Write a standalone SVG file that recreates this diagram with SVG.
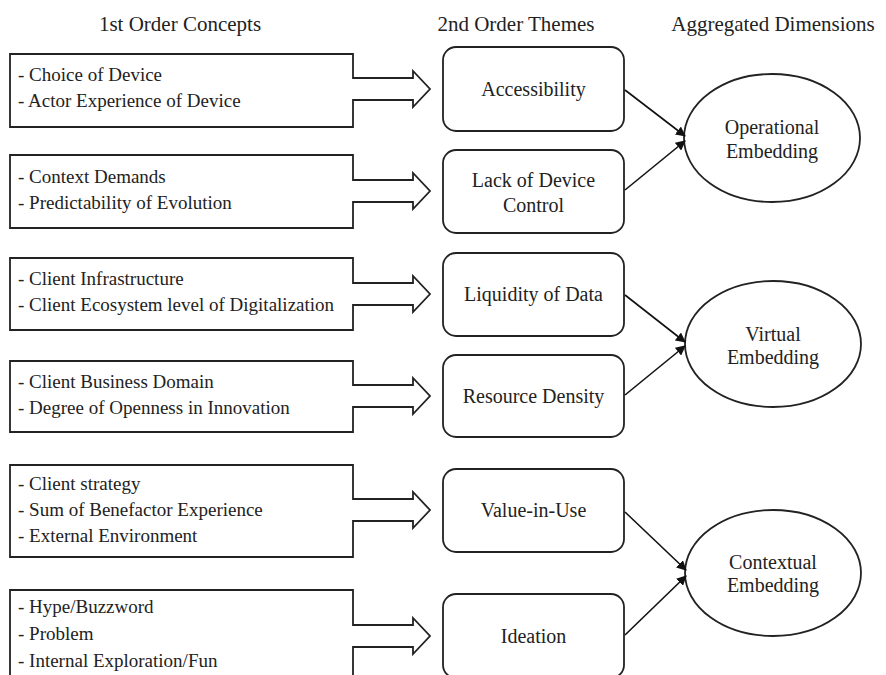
<svg xmlns="http://www.w3.org/2000/svg" width="886" height="675" viewBox="0 0 886 675">
<defs>
<style>
text{font-family:"Liberation Serif","Times New Roman",serif;fill:#222}
.hdr{font-size:21px;text-anchor:middle}
.lt{font-size:19px}
.mt{font-size:20px;text-anchor:middle}
.blk{fill:#fff;stroke:#222;stroke-width:1.8;stroke-linejoin:miter}
.rb{fill:#fff;stroke:#222;stroke-width:1.8}
.el{fill:#fff;stroke:#222;stroke-width:1.8}
.con{fill:none;stroke:#111;stroke-width:1.6;marker-end:url(#ah)}
</style>
<marker id="ah" viewBox="0 0 10 10" refX="9" refY="5" markerWidth="10" markerHeight="10" markerUnits="userSpaceOnUse" orient="auto">
<path d="M0,0 L10,5 L0,10 Z" fill="#111"/>
</marker>
</defs>
<rect width="886" height="675" fill="#fff"/>

<g id="headers">
<text class="hdr" x="180" y="31">1st Order Concepts</text>
<text class="hdr" x="516" y="31">2nd Order Themes</text>
<text class="hdr" x="773" y="31">Aggregated Dimensions</text>
</g>

<g id="c1">
<path class="blk" d="M10,54 H353 V78 H413 V71 L430,89 L413,107 V100 H353 V127 H10 Z"/>
<text class="lt" x="18" y="81">- Choice of Device</text>
<text class="lt" x="18" y="107">- Actor Experience of Device</text>
</g>
<g id="c2">
<path class="blk" d="M10,155 H353 V180 H413 V173 L430,191 L413,209 V202 H353 V228 H10 Z"/>
<text class="lt" x="18" y="183">- Context Demands</text>
<text class="lt" x="18" y="209">- Predictability of Evolution</text>
</g>
<g id="c3">
<path class="blk" d="M10,258 H353 V283 H413 V276 L430,294 L413,312 V305 H353 V330 H10 Z"/>
<text class="lt" x="18" y="285">- Client Infrastructure</text>
<text class="lt" x="18" y="311">- Client Ecosystem level of Digitalization</text>
</g>
<g id="c4">
<path class="blk" d="M10,361 H353 V385 H413 V378 L430,396 L413,414 V407 H353 V432 H10 Z"/>
<text class="lt" x="18" y="388">- Client Business Domain</text>
<text class="lt" x="18" y="414">- Degree of Openness in Innovation</text>
</g>
<g id="c5">
<path class="blk" d="M10,465 H353 V499 H413 V492 L430,510 L413,528 V521 H353 V557 H10 Z"/>
<text class="lt" x="18" y="490">- Client strategy</text>
<text class="lt" x="18" y="516">- Sum of Benefactor Experience</text>
<text class="lt" x="18" y="542">- External Environment</text>
</g>
<g id="c6">
<path class="blk" d="M10,590 H353 V625 H413 V618 L430,636 L413,654 V647 H353 V695 H10 Z"/>
<text class="lt" x="18" y="613">- Hype/Buzzword</text>
<text class="lt" x="18" y="640">- Problem</text>
<text class="lt" x="18" y="667">- Internal Exploration/Fun</text>
</g>

<g id="t1"><rect class="rb" x="443" y="47" width="181" height="84" rx="13"/><text class="mt" x="533.5" y="96">Accessibility</text></g>
<g id="t2"><rect class="rb" x="443" y="150" width="181" height="83" rx="13"/><text class="mt" x="533.5" y="187">Lack of Device</text><text class="mt" x="533.5" y="212">Control</text></g>
<g id="t3"><rect class="rb" x="443" y="253" width="181" height="83" rx="13"/><text class="mt" x="533.5" y="301">Liquidity of Data</text></g>
<g id="t4"><rect class="rb" x="443" y="355" width="181" height="82" rx="13"/><text class="mt" x="533.5" y="403">Resource Density</text></g>
<g id="t5"><rect class="rb" x="443" y="469" width="181" height="83" rx="13"/><text class="mt" x="533.5" y="517">Value-in-Use</text></g>
<g id="t6"><rect class="rb" x="443" y="594" width="181" height="84" rx="13"/><text class="mt" x="533.5" y="643">Ideation</text></g>

<g id="d1"><ellipse class="el" cx="772" cy="138" rx="88" ry="64"/><text class="mt" x="772" y="134">Operational</text><text class="mt" x="772" y="158">Embedding</text></g>
<g id="d2"><ellipse class="el" cx="773" cy="344" rx="88" ry="63"/><text class="mt" x="773" y="341">Virtual</text><text class="mt" x="773" y="364">Embedding</text></g>
<g id="d3"><ellipse class="el" cx="773" cy="573" rx="88" ry="63"/><text class="mt" x="773" y="569">Contextual</text><text class="mt" x="773" y="592">Embedding</text></g>

<g id="connectors">
<line class="con" x1="625" y1="90" x2="685" y2="136"/>
<line class="con" x1="625" y1="190" x2="685" y2="141"/>
<line class="con" x1="625" y1="295" x2="685" y2="342"/>
<line class="con" x1="625" y1="395" x2="685" y2="346"/>
<line class="con" x1="625" y1="512" x2="686" y2="570"/>
<line class="con" x1="625" y1="635" x2="686" y2="576"/>
</g>
</svg>
